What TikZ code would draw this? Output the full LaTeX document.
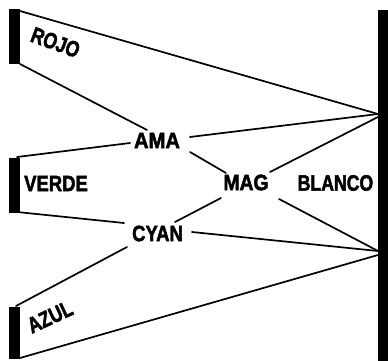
\documentclass[tikz,border=0pt]{standalone}
\usepackage{fontspec}
\setmainfont{Liberation Sans}[BoldFeatures={FakeBold=2.4}]
\usepackage{graphicx}
\tikzset{
  bar/.style={draw=none, fill=black, inner sep=0pt, minimum width=11pt},
  lbl/.style={inner sep=0pt, font=\fontsize{21}{21}\selectfont\bfseries},
  link/.style={line width=1.7pt, line cap=round},
}
\begin{document}
\begin{tikzpicture}[x=1pt,y=-1pt]
\useasboundingbox (0,0) rectangle (388,361);
% bars
\node[bar, minimum height=55pt] (rojobar) at (14.5,36.5) {};
\node[bar, minimum height=55pt] (verdebar) at (14.5,185) {};
\node[bar, minimum height=52pt] (azulbar) at (14.5,333) {};
\node[bar, minimum width=10pt, minimum height=351pt] (blancobar) at (383,185.5) {};
% labels
\node[lbl, rotate=-20] (rojo) at (55.5,42.5) {\scalebox{0.84}[1.06]{ROJO}};
\node[lbl] (verde) at (56,183.5) {\scalebox{0.88}[1.06]{VERDE}};
\node[lbl, rotate=25] (azul) at (50,317) {\scalebox{0.84}[1.06]{AZUL}};
\node[lbl] (ama) at (157,140.5) {\scalebox{0.96}[1.06]{AMA}};
\node[lbl] (mag) at (246,182.5) {\scalebox{0.92}[1.06]{MAG}};
\node[lbl] (cyan) at (157.5,233.5) {\scalebox{0.88}[1.06]{CYAN}};
\node[lbl] (blanco) at (335.5,183) {\scalebox{0.84}[1.06]{BLANCO}};
% connector end points
\coordinate (r1) at (20,11);
\coordinate (r2) at (20,64);
\coordinate (v1) at (17,157);
\coordinate (v2) at (17,212);
\coordinate (a1) at (16,306);
\coordinate (a2) at (20,358);
\coordinate (w1) at (378,114);
\coordinate (w1b) at (378,117);
\coordinate (w2) at (378,251);
\coordinate (w2b) at (378,255);
\coordinate (amaT) at (147,130);
\coordinate (amaL) at (130,143);
\coordinate (amaR) at (190,137);
\coordinate (amaD) at (190,152);
\coordinate (magUL) at (226,173);
\coordinate (magUR) at (270,172);
\coordinate (magDL) at (221,198);
\coordinate (magDR) at (279,199);
\coordinate (cyanU) at (175,222);
\coordinate (cyanR) at (192,232);
\coordinate (cyanL) at (124,223);
\coordinate (cyanD) at (127,247);
% connectors
\draw[link] (r1) -- (w1);
\draw[link] (r2) -- (amaT);
\draw[link] (amaL) -- (v1);
\draw[link] (amaR) -- (w1);
\draw[link] (amaD) -- (magUL);
\draw[link] (magUR) -- (w1b);
\draw[link] (magDL) -- (cyanU);
\draw[link] (magDR) -- (w2);
\draw[link] (cyanR) -- (w2);
\draw[link] (cyanL) -- (v2);
\draw[link] (cyanD) -- (a1);
\draw[link] (a2) -- (w2b);
\end{tikzpicture}
\end{document}
